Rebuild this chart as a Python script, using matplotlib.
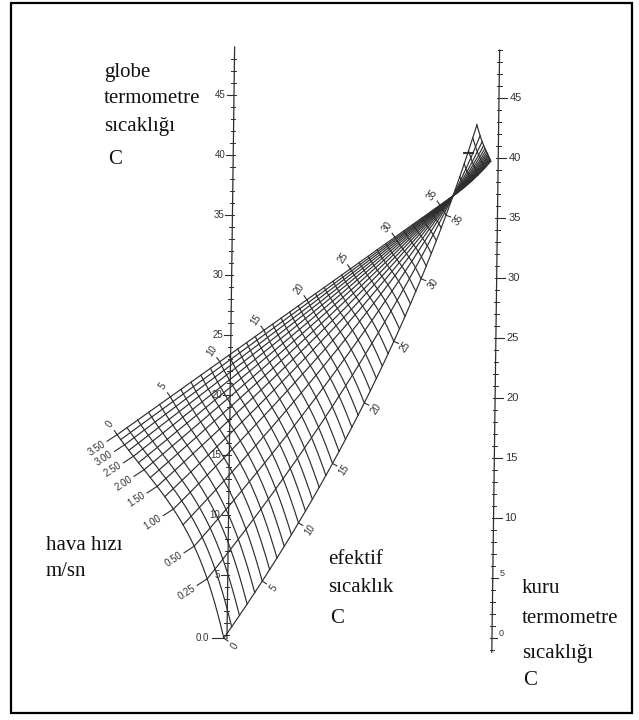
import numpy as np
import matplotlib.pyplot as plt

# scale values
globe_ticks = [5, 10, 15, 20, 25, 30, 35, 40, 45]
dry_ticks = [0, 5, 10, 15, 20, 25, 30, 35, 40, 45]
et_lines = list(range(0, 43))
et_labels = [0, 5, 10, 15, 20, 25, 30, 35]
vel_lines = [0, 0.25, 0.5, 0.75, 1.0, 1.25, 1.5, 1.75, 2.0, 2.25, 2.5, 2.75, 3.0, 3.25, 3.5]
vel_label_vals = [0, 0.25, 0.5, 1.0, 1.5, 2.0, 2.5, 3.0, 3.5]
vel_label_text = ['0.0', '0.25', '0.50', '1.00', '1.50', '2.00', '2.50', '3.00', '3.50']

# nomogram layout (page units, y down)
FOCUS = np.array([453.0, 196.0])   # where the lines cross
ET_CROSS = 36.5                    # ET value at the crossing
V_MAX = 3.5
LEFT_AX = (np.array([227.0, 635.0]), np.array([234.0, 95.0]))   # positions of 0 and 45
RIGHT_AX = (np.array([492.0, 638.0]), np.array([499.0, 98.0]))

INK = '#2e2e2e'
NUM_FONT = ['Liberation Sans Narrow', 'Liberation Sans', 'DejaVu Sans']
TXT_FONT = ['Liberation Serif', 'DejaVu Serif']


def node(t, v):
    t = np.asarray(t, float)
    v = np.asarray(v, float)
    w = np.log1p(2 * v) / np.log1p(2 * V_MAX)     # velocity scale, 0..1
    r0 = 412 + 86 * (1 - w) ** 3.2
    over = np.clip(t - ET_CROSS, 0, None)          # part beyond the crossing
    beta = np.radians(62.6 - 27.2 * w + 0.21 * (1 - w) * t + 1.3 * w * over)
    rho = r0 * (ET_CROSS - t) / ET_CROSS
    tl = np.clip(t, 0, None) / 10.0
    rho = rho - 13 * w ** 2 * tl ** 2 * np.exp(2 * (1 - tl))
    rho = np.where(t > ET_CROSS, rho * (1 - 0.18 * w), rho)
    return FOCUS[0] - rho * np.cos(beta), FOCUS[1] + rho * np.sin(beta)


def scale_pos(axis, T):
    p0, p45 = axis
    return p0 + (p45 - p0) * (T / 45.0)


fig = plt.figure(figsize=(6.39, 7.2), dpi=100)
ax = fig.add_axes([0, 0, 1, 1])
ax.set_xlim(0, 639)
ax.set_ylim(720, 0)
ax.axis('off')

# frame
ax.add_patch(plt.Rectangle((11, 3), 621, 710, fill=False, lw=1.6, ec='black'))

# effective temperature lines
vv = np.linspace(0, V_MAX, 80)
for t in et_lines:
    x, y = node(t, vv)
    ax.plot(x, y, color=INK, lw=0.85)

# air velocity lines
tt = np.linspace(0, 42, 200)
for v in vel_lines:
    x, y = node(tt, v)
    ax.plot(x, y, color=INK, lw=0.85)

# ET labels on the two edges
for t in et_labels:
    for v, ref in ((V_MAX, 3.0), (0.0, 0.5)):
        x0, y0 = node(t, v)
        xa, ya = node(t - 0.5, v)
        xb, yb = node(t + 0.5, v)
        xr, yr = node(t, ref)
        tan = np.array([xb - xa, yb - ya])
        nrm = np.array([-tan[1], tan[0]]) / np.hypot(*tan)
        if np.dot(nrm, [x0 - xr, y0 - yr]) < 0:
            nrm = -nrm
        ax.plot([x0, x0 + 5 * nrm[0]], [y0, y0 + 5 * nrm[1]], color=INK, lw=0.8)
        ax.text(x0 + 13 * nrm[0], y0 + 13 * nrm[1], str(t), rotation=55,
                ha='center', va='center', fontsize=7, family=NUM_FONT, color='#333333')

# velocity labels on the ET = 0 edge
for v, lab in zip(vel_label_vals, vel_label_text):
    x0, y0 = node(0, v)
    ang = 0 if v == 0 else 33
    d = np.array([-np.cos(np.radians(ang)), np.sin(np.radians(ang))])
    ax.plot([x0, x0 + 12 * d[0]], [y0, y0 + 12 * d[1]], color=INK, lw=0.8)
    ax.text(x0 + 15 * d[0], y0 + 15 * d[1], lab, rotation=ang, rotation_mode='anchor',
            ha='right', va='center', fontsize=7, family=NUM_FONT, color='#333333')

# tick mark on the upper fan
x0, y0 = node(40, 0)
ax.plot([x0 - 5, x0 + 4], [y0 + 2, y0 + 2], color=INK, lw=1.4)

# globe thermometer scale (left)
a, b = scale_pos(LEFT_AX, -0.3), scale_pos(LEFT_AX, 49)
ax.plot([a[0], b[0]], [a[1], b[1]], color=INK, lw=0.9)
for T in range(0, 49):
    p = scale_pos(LEFT_AX, T)
    ax.plot([p[0] - 3, p[0] + 1.5], [p[1], p[1]], color=INK, lw=0.7)
for T in globe_ticks:
    p = scale_pos(LEFT_AX, T)
    ax.plot([p[0] - 7, p[0]], [p[1], p[1]], color=INK, lw=0.8)
    ax.text(p[0] - 8, p[1], str(T), ha='right', va='center', fontsize=7,
            family=NUM_FONT, color='#333333')

# dry bulb scale (right)
a, b = scale_pos(RIGHT_AX, -1.2), scale_pos(RIGHT_AX, 49)
ax.plot([a[0], b[0]], [a[1], b[1]], color=INK, lw=0.9)
for T in range(-1, 50):
    p = scale_pos(RIGHT_AX, T)
    ax.plot([p[0] - 2, p[0] + 2.5], [p[1], p[1]], color=INK, lw=0.7)
for T in dry_ticks:
    p = scale_pos(RIGHT_AX, T)
    small = T < 10
    ax.plot([p[0], p[0] + (5 if small else 8)], [p[1], p[1]], color=INK, lw=0.8)
    ax.text(p[0] + (7 if small else 11), p[1] - (4 if small else 0), str(T),
            ha='left', va='center', fontsize=6.5 if small else 8,
            family=NUM_FONT, color='#333333')

# captions
def caption(x, ys, lines):
    for y, s in zip(ys, lines):
        ax.text(x, y, s, ha='left', va='baseline', fontsize=15, family=TXT_FONT, color='#111111')

caption(104, [77, 103, 131], ['globe', 'termometre', 'sıcaklığı'])
caption(108, [164], ['C'])
caption(46, [550, 576], ['hava hızı', 'm/sn'])
caption(328, [564, 592], ['efektif', 'sıcaklık'])
caption(330, [623], ['C'])
caption(522, [593, 623, 658], ['kuru', 'termometre', 'sıcaklığı'])
caption(523, [685], ['C'])

fig.savefig('out.png', dpi=100)
